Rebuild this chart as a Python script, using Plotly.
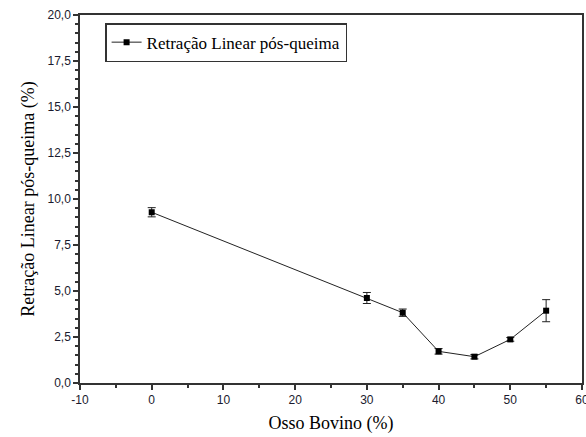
import plotly.graph_objects as go

osso = [0, 30, 35, 40, 45, 50, 55]
retracao = [9.28, 4.62, 3.82, 1.72, 1.43, 2.37, 3.93]
erro = [0.25, 0.30, 0.20, 0.15, 0.12, 0.10, 0.60]

x_ticks = [-10, 0, 10, 20, 30, 40, 50, 60]
x_ticklabels = ["-10", "0", "10", "20", "30", "40", "50", "60"]

fig = go.Figure()
fig.add_trace(go.Scatter(
    x=osso, y=retracao, mode="lines+markers",
    name="Retração Linear pós-queima",
    line=dict(color="#222222", width=1),
    marker=dict(symbol="square", size=6, color="#000000"),
    error_y=dict(type="data", array=erro, visible=True, color="#222222", thickness=1, width=4),
))

axis_common = dict(
    showline=True, linecolor="#333333", linewidth=1.5, mirror=True,
    showgrid=False, zeroline=False, ticks="outside", ticklen=5, tickwidth=1.5,
    tickcolor="#333333", ticklabeloverflow="allow", automargin=False,
    tickfont=dict(family="Liberation Sans, Arial", size=12, color="#1a1a2e"),
)
minor_ticks = dict(ticks="outside", ticklen=3, tickwidth=1.5, tickcolor="#333333")

serif = "Liberation Serif, Times New Roman"

fig.update_layout(
    width=586, height=437,
    margin=dict(l=80, r=4, t=15, b=54),
    paper_bgcolor="white", plot_bgcolor="white",
    separators=",.",
    showlegend=True,
    legend=dict(
        x=0.05, y=0.978, xanchor="left", yanchor="top",
        bordercolor="#333333", borderwidth=1.5, bgcolor="white",
        font=dict(family=serif, size=17, color="#000000"),
        itemwidth=30, tracegroupgap=0,
    ),
    xaxis=dict(
        range=[-10, 60], tickmode="array", tickvals=x_ticks, ticktext=x_ticklabels,
        minor=dict(dtick=5, **minor_ticks),
        title=dict(text="Osso Bovino (%)", font=dict(family=serif, size=18, color="#000000"), standoff=10),
        **axis_common,
    ),
    yaxis=dict(
        range=[0, 20], dtick=2.5, tick0=0, tickformat=".1f",
        minor=minor_ticks,
        title=dict(text="Retração Linear pós-queima (%)", font=dict(family=serif, size=18, color="#000000"), standoff=8),
        **axis_common,
    ),
)

fig.write_html("out.html")
